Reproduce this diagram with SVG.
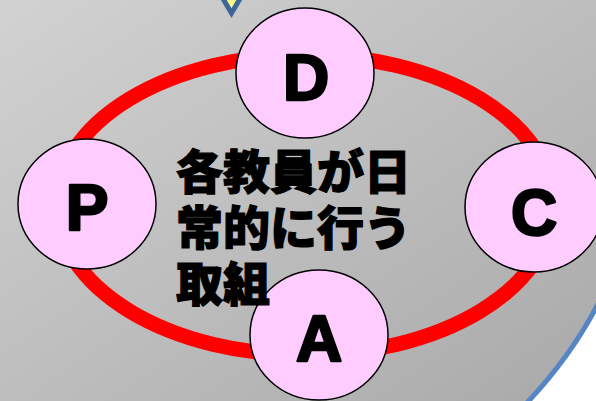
<svg xmlns="http://www.w3.org/2000/svg" width="596" height="401" viewBox="0 0 596 401">
<defs>
<linearGradient id="bg" x1="0" y1="0" x2="1" y2="1">
<stop offset="0" stop-color="#d2d2d2"/>
<stop offset="1" stop-color="#a9a9a9"/>
</linearGradient>
</defs>
<style>
.node{fill:#ffccff;stroke:#000;stroke-width:1.5}
.lbl{font-family:"Liberation Sans",Arial,sans-serif;font-weight:bold;font-size:64px;fill:#000;stroke:#000;stroke-width:2.5;stroke-linejoin:round;text-anchor:middle}
.jp{font-family:"Noto Sans CJK JP",sans-serif;font-weight:900;font-size:47px;fill:#000;stroke:#000;stroke-width:1.2}
</style>
<rect width="596" height="401" fill="url(#bg)"/>
<path d="M600 300 Q572 356 524 406 L600 406 Z" fill="#ffffff" stroke="#5585c4" stroke-width="5"/>
<polygon points="219,-8 244,-8 231.5,13" fill="#ffff88" stroke="#3f6699" stroke-width="5" stroke-linejoin="miter"/>
<g id="connectors">
<ellipse cx="305" cy="205" rx="248" ry="150" fill="none" stroke="#ff0000" stroke-width="15"/>
</g>
<g id="node-D">
<ellipse class="node" cx="305" cy="73" rx="69" ry="65"/>
<text class="lbl" x="306" y="100">D</text>
</g>
<g id="node-P">
<ellipse class="node" cx="87" cy="204" rx="69" ry="65"/>
<text class="lbl" x="87" y="230">P</text>
</g>
<g id="node-C">
<ellipse class="node" cx="534" cy="207" rx="69" ry="65"/>
<text class="lbl" x="534" y="235">C</text>
</g>
<g id="node-A">
<ellipse class="node" cx="319" cy="335" rx="69" ry="65"/>
<text class="lbl" x="319" y="361">A</text>
</g>
<g id="center-text">
<text class="jp" x="176" y="189">各教員が日</text>
<text class="jp" x="176" y="245">常的に行う</text>
<text class="jp" x="176" y="301">取組</text>
</g>
</svg>
